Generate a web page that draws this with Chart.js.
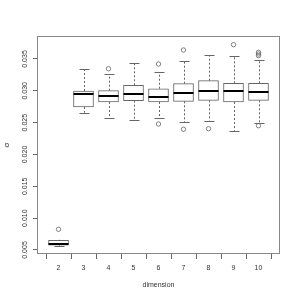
<!DOCTYPE html>
<html>
<head>
<meta charset="utf-8">
<script src="https://cdn.jsdelivr.net/npm/chart.js@4/dist/chart.umd.min.js"></script>
<style>
html,body{margin:0;padding:0;background:#fff;}
canvas{display:block;}
</style>
</head>
<body>
<canvas id="c" width="300" height="300"></canvas>
<script>
// ---- data ----
const dimensions = [2, 3, 4, 5, 6, 7, 8, 9, 10];
const whiskerLow  = [0.00564, 0.02656, 0.02568, 0.02542, 0.02568, 0.02510, 0.02531, 0.02374, 0.02490];
const quartile1   = [0.00574, 0.02746, 0.02824, 0.02845, 0.02824, 0.02835, 0.02851, 0.02824, 0.02851];
const medians     = [0.00599, 0.02945, 0.02914, 0.02955, 0.02908, 0.02961, 0.03002, 0.02993, 0.02977];
const quartile3   = [0.00652, 0.02997, 0.03002, 0.03087, 0.03033, 0.03112, 0.03159, 0.03118, 0.03118];
const whiskerHigh = [0.00660, 0.03343, 0.03260, 0.03432, 0.03291, 0.03473, 0.03558, 0.03547, 0.03484];
const outliers    = [[0.00825], [], [0.03347], [], [0.03421, 0.02479], [0.03641, 0.02396], [0.02405], [0.03725], [0.03605, 0.03578, 0.03552, 0.02452]];
const yTicks = [0.005, 0.010, 0.015, 0.020, 0.025, 0.030, 0.035];
const xTitle = 'dimension';
const yTitle = 'σ';

const FONT = 'Liberation Sans, Arial, sans-serif';
const TXT = '#333';
const LINE = '#666';

const boxData = dimensions.map((d, i) => ({ x: i + 1, y: [quartile1[i], quartile3[i]] }));
const outlierData = [];
outliers.forEach((arr, i) => arr.forEach(v => outlierData.push({ x: i + 1, y: v })));

const boxPlugin = {
  id: 'boxparts',
  beforeDatasetsDraw(chart) {
    const { ctx, scales: { x, y } } = chart;
    ctx.save();
    ctx.strokeStyle = LINE;
    ctx.lineWidth = 1;
    dimensions.forEach((d, i) => {
      const px = Math.round(x.getPixelForValue(i + 1)) + 0.5;
      ctx.setLineDash([2, 2]);
      ctx.beginPath();
      ctx.moveTo(px, y.getPixelForValue(quartile3[i]));
      ctx.lineTo(px, y.getPixelForValue(whiskerHigh[i]));
      ctx.moveTo(px, y.getPixelForValue(quartile1[i]));
      ctx.lineTo(px, y.getPixelForValue(whiskerLow[i]));
      ctx.stroke();
      ctx.setLineDash([]);
      ctx.beginPath();
      const hw = 5;
      const yh = Math.round(y.getPixelForValue(whiskerHigh[i])) + 0.5;
      const yl = Math.round(y.getPixelForValue(whiskerLow[i])) + 0.5;
      ctx.moveTo(px - hw, yh); ctx.lineTo(px + hw, yh);
      ctx.moveTo(px - hw, yl); ctx.lineTo(px + hw, yl);
      ctx.stroke();
    });
    ctx.restore();
  },
  afterDatasetsDraw(chart) {
    const { ctx, scales: { x, y } } = chart;
    ctx.save();
    ctx.strokeStyle = '#000';
    ctx.lineWidth = 2;
    dimensions.forEach((d, i) => {
      const px = x.getPixelForValue(i + 1);
      const py = Math.round(y.getPixelForValue(medians[i]));
      ctx.beginPath();
      ctx.moveTo(px - 10, py);
      ctx.lineTo(px + 10, py);
      ctx.stroke();
    });
    ctx.restore();
  },
  afterDraw(chart) {
    const { ctx, chartArea: a } = chart;
    ctx.save();
    ctx.strokeStyle = '#888';
    ctx.lineWidth = 1;
    ctx.strokeRect(Math.round(a.left) + 0.5, Math.round(a.top) + 0.5, Math.round(a.right - a.left) - 1, Math.round(a.bottom - a.top) - 1);
    ctx.restore();
  }
};

new Chart(document.getElementById('c'), {
  type: 'bar',
  data: {
    datasets: [
      {
        type: 'bar',
        data: boxData,
        backgroundColor: '#fff',
        borderColor: LINE,
        borderWidth: 1,
        borderSkipped: false,
        barThickness: 20,
        order: 2
      },
      {
        type: 'scatter',
        data: outlierData,
        showLine: false,
        pointStyle: 'circle',
        pointRadius: 2.2,
        borderColor: LINE,
        backgroundColor: 'rgba(0,0,0,0)',
        borderWidth: 0.8,
        order: 1
      }
    ]
  },
  options: {
    responsive: false,
    animation: false,
    devicePixelRatio: 1,
    layout: { padding: { top: 36, right: 20, left: 0, bottom: 0 } },
    plugins: { legend: { display: false }, tooltip: { enabled: false } },
    scales: {
      x: {
        type: 'linear',
        min: 0.14,
        max: 9.86,
        offset: false,
        afterBuildTicks: s => { s.ticks = dimensions.map((d, i) => ({ value: i + 1 })); },
        afterFit: s => { s.height = 46; },
        grid: { drawOnChartArea: false, drawTicks: true, tickLength: 5, color: LINE },
        border: { display: false },
        ticks: {
          callback: v => String(dimensions[v - 1]),
          font: { family: FONT, size: 7 },
          color: TXT,
          padding: 5,
          maxRotation: 0,
          minRotation: 0,
          autoSkip: false
        },
        title: { display: true, text: xTitle, font: { family: FONT, size: 7 }, color: TXT, padding: { top: 0, bottom: 11 } }
      },
      y: {
        type: 'linear',
        min: 0.00437,
        max: 0.03861,
        afterBuildTicks: s => { s.ticks = yTicks.map(v => ({ value: v })); },
        afterFit: s => { s.width = 37; },
        grid: { drawOnChartArea: false, drawTicks: true, tickLength: 4, color: LINE },
        border: { display: false },
        ticks: {
          callback: v => v.toFixed(3),
          font: { family: FONT, size: 7 },
          color: TXT,
          padding: -1,
          minRotation: 90,
          maxRotation: 90,
          crossAlign: 'center',
          autoSkip: false
        },
        title: { display: true, text: yTitle, font: { family: FONT, size: 8 }, color: TXT, padding: { top: 2, bottom: 0 } }
      }
    }
  },
  plugins: [boxPlugin]
});
</script>
</body>
</html>
